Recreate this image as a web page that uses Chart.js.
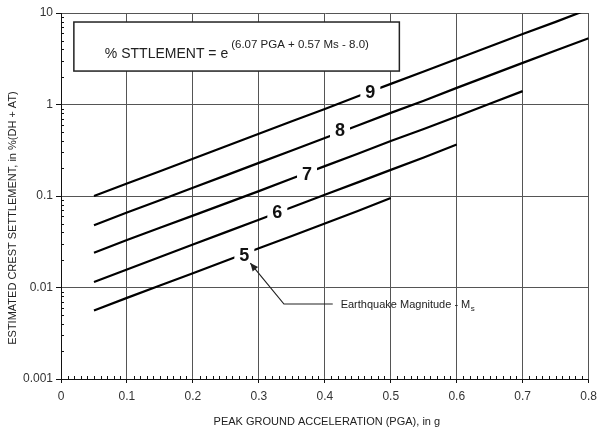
<!DOCTYPE html>
<html>
<head>
<meta charset="utf-8">
<script src="https://cdn.jsdelivr.net/npm/chart.js@4"></script>
<style>
  body { margin: 0; background: #fff; }
  #wrap { width: 603px; height: 433px; }
</style>
</head>
<body>
<div id="wrap"><canvas id="chart"></canvas></div>
<script>
// ====== DATA ======
const pga = [0.05, 0.10, 0.15, 0.20, 0.25, 0.30, 0.35, 0.40, 0.45, 0.50, 0.55, 0.60, 0.65, 0.70, 0.75, 0.80];
const ms9 = [0.10, 0.137, 0.186, 0.255, 0.35, 0.48, 0.655, 0.895, 1.23, 1.68, 2.29, 3.14, 4.3, 5.9, 8.0, 11.0];
const ms8 = [0.048, 0.066, 0.090, 0.123, 0.168, 0.23, 0.315, 0.43, 0.59, 0.81, 1.1, 1.52, 2.08, 2.85, 3.9, 5.3];
const ms7 = [0.024, 0.033, 0.045, 0.061, 0.083, 0.113, 0.155, 0.212, 0.29, 0.40, 0.54, 0.74, 1.02, 1.4];
const ms6 = [0.0115, 0.0157, 0.0215, 0.0295, 0.0403, 0.0551, 0.0754, 0.103, 0.141, 0.193, 0.264, 0.365];
const ms5 = [0.0056, 0.0077, 0.0105, 0.0143, 0.0196, 0.0268, 0.0366, 0.050, 0.0686, 0.095];

// curve labels (magnitude) and where they sit
const magLabels = ["9", "8", "7", "6", "5"];
const magLabelX = [0.469, 0.423, 0.373, 0.328, 0.278];
const magLabelY = [1.37, 0.526, 0.174, 0.0668, 0.0226];

const xTicks = [0, 0.1, 0.2, 0.3, 0.4, 0.5, 0.6, 0.7, 0.8];
const xTickLabels = ["0", "0.1", "0.2", "0.3", "0.4", "0.5", "0.6", "0.7", "0.8"];
const yTicks = [0.001, 0.01, 0.1, 1, 10];
const yTickLabels = ["0.001", "0.01", "0.1", "1", "10"];

const xTitle = "PEAK GROUND ACCELERATION (PGA), in g";
const yTitle = "ESTIMATED CREST SETTLEMENT, in %(DH + AT)";
const formulaMain = "% STTLEMENT = e";
const formulaSup = "(6.07 PGA + 0.57 Ms - 8.0)";
const noteText = "Earthquake Magnitude - M";
const noteSub = "s";

// annotation anchors in data units
const formulaBox = { x0: 0.0195, x1: 0.513, y0: 7.97, y1: 2.32 };
const arrowPath = [[0.412, 0.0066], [0.338, 0.0066], [0.287, 0.0185]];
const noteAt = [0.424, 0.0065];

// ====== HELPERS ======
const FONT = '"Liberation Sans", Arial, sans-serif';
const toPts = (arr) => arr.map((v, i) => ({ x: pga[i], y: v }));
function lineSet(arr) {
  return { data: toPts(arr), borderColor: "#000", borderWidth: 2.2, pointRadius: 0, tension: 0, fill: false };
}

const decor = {
  id: "decor",
  afterDatasetsDraw(chart) {
    const { ctx, scales: { x, y } } = chart;
    ctx.save();

    // formula box
    const bx0 = x.getPixelForValue(formulaBox.x0), bx1 = x.getPixelForValue(formulaBox.x1);
    const by0 = y.getPixelForValue(formulaBox.y0), by1 = y.getPixelForValue(formulaBox.y1);
    ctx.fillStyle = "#fff";
    ctx.fillRect(bx0, by0, bx1 - bx0, by1 - by0);
    ctx.strokeStyle = "#222";
    ctx.lineWidth = 1.5;
    ctx.strokeRect(bx0, by0, bx1 - bx0, by1 - by0);
    ctx.fillStyle = "#222";
    ctx.textAlign = "left";
    ctx.textBaseline = "alphabetic";
    ctx.font = "14px " + FONT;
    const tx = bx0 + 31, ty = by0 + 36;
    ctx.fillText(formulaMain, tx, ty);
    const w = ctx.measureText(formulaMain).width;
    ctx.font = "11.5px " + FONT;
    ctx.fillText(formulaSup, tx + w + 3, ty - 10);

    // magnitude labels cut into the curves
    magLabels.forEach((t, i) => {
      const px = x.getPixelForValue(magLabelX[i]);
      const py = y.getPixelForValue(magLabelY[i]);
      ctx.fillStyle = "#fff";
      ctx.fillRect(px - 10, py - 9, 20, 18);
      ctx.fillStyle = "#111";
      ctx.font = "bold 18px " + FONT;
      ctx.textAlign = "center";
      ctx.textBaseline = "middle";
      ctx.fillText(t, px, py + 1);
    });

    // arrow to the "5" label
    const pts = arrowPath.map(p => [x.getPixelForValue(p[0]), y.getPixelForValue(p[1])]);
    ctx.strokeStyle = "#222";
    ctx.lineWidth = 1.2;
    ctx.beginPath();
    ctx.moveTo(pts[0][0], pts[0][1]);
    for (let i = 1; i < pts.length; i++) ctx.lineTo(pts[i][0], pts[i][1]);
    ctx.stroke();
    const [ex, ey] = pts[pts.length - 1], [sx, sy] = pts[pts.length - 2];
    const a = Math.atan2(ey - sy, ex - sx);
    ctx.fillStyle = "#222";
    ctx.beginPath();
    ctx.moveTo(ex, ey);
    ctx.lineTo(ex - 8 * Math.cos(a) + 3.5 * Math.sin(a), ey - 8 * Math.sin(a) - 3.5 * Math.cos(a));
    ctx.lineTo(ex - 8 * Math.cos(a) - 3.5 * Math.sin(a), ey - 8 * Math.sin(a) + 3.5 * Math.cos(a));
    ctx.closePath();
    ctx.fill();

    // note text
    const nx = x.getPixelForValue(noteAt[0]), ny = y.getPixelForValue(noteAt[1]);
    ctx.font = "11px " + FONT;
    ctx.textAlign = "left";
    ctx.textBaseline = "middle";
    ctx.fillText(noteText, nx, ny);
    const nw = ctx.measureText(noteText).width;
    ctx.font = "8px " + FONT;
    ctx.fillText(noteSub, nx + nw + 0.5, ny + 4);
    ctx.restore();
  },
  afterDraw(chart) {
    const { ctx, chartArea: ca, scales: { x, y } } = chart;
    ctx.save();
    ctx.strokeStyle = "#111";
    ctx.lineWidth = 1;
    // minor ticks on x (every 0.01, pointing in)
    ctx.beginPath();
    for (let i = 1; i < 80; i++) {
      if (i % 10 === 0) continue;
      const px = Math.round(x.getPixelForValue(i / 100)) + 0.5;
      ctx.moveTo(px, ca.bottom);
      ctx.lineTo(px, ca.bottom - 3);
    }
    // minor ticks on y (2..9 in each decade, pointing in)
    for (let d = 0; d < yTicks.length - 1; d++) {
      for (let m = 2; m <= 9; m++) {
        const py = Math.round(y.getPixelForValue(yTicks[d] * m)) + 0.5;
        ctx.moveTo(ca.left, py);
        ctx.lineTo(ca.left + 3, py);
      }
    }
    ctx.stroke();

    // axis titles
    ctx.fillStyle = "#222";
    ctx.font = "11px " + FONT;
    ctx.textAlign = "center";
    ctx.textBaseline = "middle";
    ctx.fillText(xTitle, (ca.left + ca.right) / 2 + 2, 422);
    ctx.translate(13, 218);
    ctx.rotate(-Math.PI / 2);
    ctx.fillText(yTitle, 0, 0);
    ctx.restore();
  }
};

// ====== CHART ======
new Chart(document.getElementById("chart"), {
  type: "line",
  data: { datasets: [lineSet(ms9), lineSet(ms8), lineSet(ms7), lineSet(ms6), lineSet(ms5)] },
  options: {
    responsive: true,
    maintainAspectRatio: false,
    animation: false,
    layout: { padding: { top: 13, right: 10, left: 0, bottom: 0 } },
    plugins: { legend: { display: false }, tooltip: { enabled: false } },
    scales: {
      x: {
        type: "linear", min: 0, max: 0.8,
        afterBuildTicks: (s) => { s.ticks = xTicks.map(v => ({ value: v })); },
        afterFit: (s) => { s.height = 54; },
        ticks: { callback: (v, i) => xTickLabels[i], color: "#333", font: { family: FONT, size: 12 }, padding: 6, maxRotation: 0 },
        grid: { color: "#555", lineWidth: 1, tickLength: 4, tickColor: "#111" },
        border: { color: "#111", width: 1 }
      },
      y: {
        type: "logarithmic", min: 0.001, max: 10,
        afterBuildTicks: (s) => { s.ticks = yTicks.map(v => ({ value: v })); },
        afterFit: (s) => { s.width = 61; },
        ticks: { callback: (v, i) => yTickLabels[i], color: "#333", font: { family: FONT, size: 12 }, padding: 3 },
        grid: { color: "#555", lineWidth: 1, tickLength: 5, tickColor: "#111" },
        border: { color: "#111", width: 1 }
      }
    }
  },
  plugins: [decor]
});
</script>
</body>
</html>
